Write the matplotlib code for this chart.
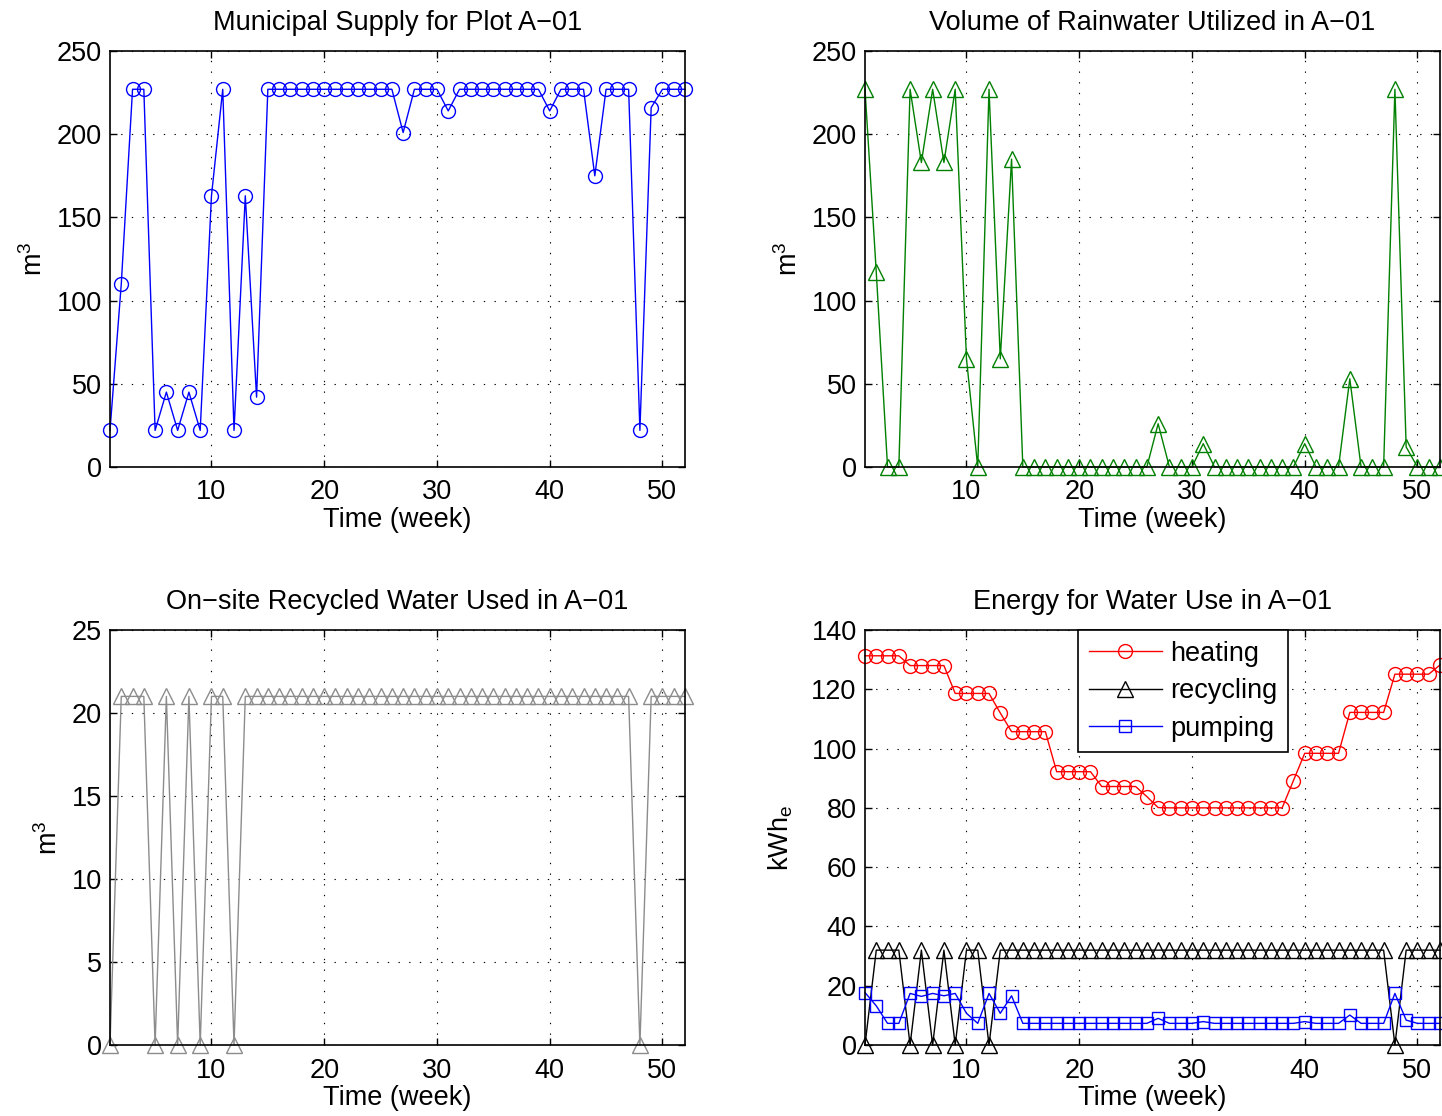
import numpy as np
import matplotlib
matplotlib.use("Agg")
import matplotlib.pyplot as plt

# week numbers 1..52
weeks = list(range(1, 53))

municipal = [22, 110, 227, 227, 22, 45, 22, 45, 22, 163,
             227, 22, 163, 42, 227, 227, 227, 227, 227, 227,
             227, 227, 227, 227, 227, 227, 201, 227, 227, 227,
             214, 227, 227, 227, 227, 227, 227, 227, 227, 214,
             227, 227, 227, 175, 227, 227, 227, 22, 216, 227,
             227, 227]

rainwater = [227, 117, 0, 0, 227, 183, 227, 183, 227, 65,
             0, 227, 65, 185, 0, 0, 0, 0, 0, 0,
             0, 0, 0, 0, 0, 0, 26, 0, 0, 0,
             14, 0, 0, 0, 0, 0, 0, 0, 0, 14,
             0, 0, 0, 53, 0, 0, 0, 227, 12, 0,
             0, 0]

recycled = [0, 21, 21, 21, 0, 21, 0, 21, 0, 21,
            21, 0, 21, 21, 21, 21, 21, 21, 21, 21,
            21, 21, 21, 21, 21, 21, 21, 21, 21, 21,
            21, 21, 21, 21, 21, 21, 21, 21, 21, 21,
            21, 21, 21, 21, 21, 21, 21, 0, 21, 21,
            21, 21]

heating = [131.3, 131.3, 131.3, 131.3, 128, 128, 128, 128, 118.6, 118.6,
           118.6, 118.6, 112, 105.7, 105.7, 105.7, 105.7, 92.2, 92.2, 92.2,
           92.2, 87.2, 87.2, 87.2, 87.2, 83.8, 80.1, 80, 80, 80,
           80, 80, 80, 80, 80, 80, 80, 80, 89.2, 98.4,
           98.4, 98.4, 98.4, 112.2, 112.2, 112.2, 112.2, 125.1, 125.1, 125.1,
           125.1, 128.2]

recycling = [0, 32, 32, 32, 0, 32, 0, 32, 0, 32,
             32, 0, 32, 32, 32, 32, 32, 32, 32, 32,
             32, 32, 32, 32, 32, 32, 32, 32, 32, 32,
             32, 32, 32, 32, 32, 32, 32, 32, 32, 32,
             32, 32, 32, 32, 32, 32, 32, 0, 32, 32,
             32, 32]

pumping = [17.7, 13.2, 7.3, 7.3, 17.4, 16.4, 17.4, 16.6, 17.4, 10.7,
           7.3, 17.4, 10.7, 16.6, 7.3, 7.3, 7.3, 7.3, 7.3, 7.3,
           7.3, 7.3, 7.3, 7.3, 7.3, 7.3, 9.0, 7.3, 7.3, 7.3,
           7.9, 7.3, 7.3, 7.3, 7.3, 7.3, 7.3, 7.3, 7.3, 7.9,
           7.3, 7.3, 7.3, 10.1, 7.3, 7.3, 7.3, 17.4, 8.4, 7.3,
           7.3, 7.3]

plt.rcParams['font.family'] = ['Liberation Sans', 'DejaVu Sans']
plt.rcParams['mathtext.fontset'] = 'custom'
plt.rcParams['mathtext.rm'] = 'Liberation Sans'
plt.rcParams['mathtext.it'] = 'Liberation Sans:italic'

FS = 19.5
TFS = 19.5

fig = plt.figure(figsize=(14.42, 11.16), dpi=100)

W = 575 / 1442
left1, left2 = 110 / 1442, 865 / 1442
top_b, top_h = 1 - 467 / 1116, 416 / 1116
bot_b, bot_h = 1 - 1045 / 1116, 415 / 1116


def style(ax, ymax, ystep, ylabel, title, ypad=6):
    ax.set_xlim(1, 52)
    ax.set_ylim(0, ymax)
    ax.set_xticks([10, 20, 30, 40, 50])
    ax.set_yticks(np.arange(0, ymax + 0.1, ystep))
    ax.grid(True, linestyle=(0, (1.2, 8.4)), color='black', linewidth=0.8)
    ax.tick_params(direction='in', length=5, width=1, top=True, right=True, labelsize=TFS)
    ax.tick_params(axis='x', pad=9)
    ax.tick_params(axis='y', pad=6)
    for s in ax.spines.values():
        s.set_linewidth(1.2)
    ax.set_xlabel("Time (week)", fontsize=FS, labelpad=1)
    ax.set_ylabel(ylabel, fontsize=FS, labelpad=ypad)
    ax.set_title(title, fontsize=FS, pad=15)


ax1 = fig.add_axes([left1, top_b, W, top_h])
ax1.plot(weeks, municipal, color='blue', marker='o', ms=10, mfc='none', lw=1, clip_on=False)
style(ax1, 250, 50, 'm$^3$', 'Municipal Supply for Plot A\u221201')

ax2 = fig.add_axes([left2, top_b, W, top_h])
ax2.plot(weeks, rainwater, color=(0, 0.5, 0), marker='^', ms=11, mfc='none', lw=1, clip_on=False)
style(ax2, 250, 50, 'm$^3$', 'Volume of Rainwater Utilized in A\u221201')

ax3 = fig.add_axes([left1, bot_b, W, bot_h])
ax3.plot(weeks, recycled, color=(0.55, 0.55, 0.55), marker='^', ms=11, mfc='none', lw=1, clip_on=False)
style(ax3, 25, 5, 'm$^3$', 'On\u2212site Recycled Water Used in A\u221201')

ax4 = fig.add_axes([left2, bot_b, W, bot_h])
ax4.plot(weeks, heating, color='red', marker='o', ms=10, mfc='none', lw=1, label='heating', clip_on=False)
ax4.plot(weeks, recycling, color='black', marker='^', ms=11, mfc='none', lw=1, label='recycling', clip_on=False)
ax4.plot(weeks, pumping, color='blue', marker='s', ms=8, mfc='none', lw=1, label='pumping', clip_on=False)
style(ax4, 140, 20, 'kWh$_\\mathrm{e}$', 'Energy for Water Use in A\u221201', ypad=12)
leg = ax4.legend(loc='upper left', bbox_to_anchor=(0.37, 1.0), borderaxespad=0,
                 fontsize=FS, fancybox=False, framealpha=1, edgecolor='black',
                 handlelength=2.7, labelspacing=0.42, borderpad=0.4, handletextpad=0.3)
leg.get_frame().set_linewidth(1.2)

fig.savefig("out.png", dpi=100)
